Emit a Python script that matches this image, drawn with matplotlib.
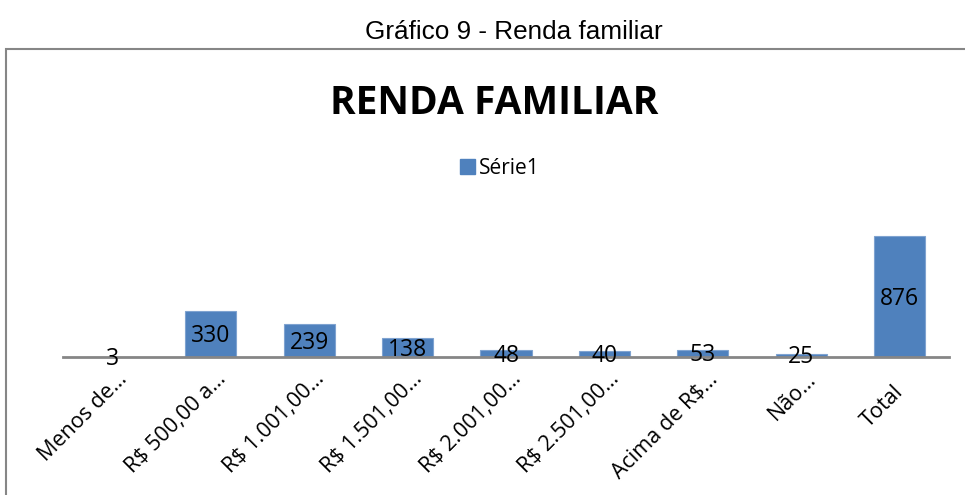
import matplotlib.pyplot as plt
import matplotlib.patches as mpatches
from matplotlib.transforms import ScaledTranslation

categories = ['Menos de…', 'R$ 500,00 a…', 'R$ 1.001,00…', 'R$ 1.501,00…',
              'R$ 2.001,00…', 'R$ 2.501,00…', 'Acima de R$…', 'Não…', 'Total']
values = [3, 330, 239, 138, 48, 40, 53, 25, 876]

bar_color = '#4F81BD'
gray = '#868686'
font = ['Open Sans', 'DejaVu Sans']

W, H = 965, 495
fig = plt.figure(figsize=(W / 100, H / 100), dpi=100)

# outer caption
fig.text(514 / W, 1 - 32 / H, 'Gráfico 9 - Renda familiar', ha='center', va='center',
         fontsize=18.8, family=['Liberation Sans', 'DejaVu Sans'])

# chart border (runs off the right and bottom edges)
border = mpatches.Rectangle((5.5 / W, -0.1), 1.2, 1.1 - 48.5 / H, transform=fig.transFigure,
                            fill=False, edgecolor=gray, linewidth=1.5)
fig.patches.append(border)

fig.text(494 / W, 1 - 104 / H, 'RENDA FAMILIAR', ha='center', va='center',
         fontsize=28, fontweight='bold', family=font)

# plot area
left, right = 63 / W, 949 / W
base, top = 357 / H, 219 / H
ax = fig.add_axes([left, 1 - base, right - left, base - top])
x = range(len(categories))
bars = ax.bar(x, values, width=0.52, color=bar_color, edgecolor='#7FA3D0', linewidth=0.8,
              label='Série1')
anns = ax.bar_label(bars, labels=[str(v) for v in values], label_type='center', fontsize=16.5,
                    family=font)
for a in anns:
    a.xyann = (0, -1.5)
ax.set_xlim(-0.5, len(categories) - 0.5)
ax.set_ylim(0, 1000)

for s in ['top', 'right', 'left']:
    ax.spines[s].set_visible(False)
ax.spines['bottom'].set_color(gray)
ax.spines['bottom'].set_linewidth(2)
ax.set_yticks([])
ax.set_xticks(list(x))
ax.set_xticklabels(categories, rotation=45, ha='right', va='baseline', rotation_mode='anchor',
                   fontsize=15.5, family=font)
ax.tick_params(axis='x', length=0, pad=0)
for i, lbl in enumerate(ax.get_xticklabels()):
    dx, dy = (16, 23) if categories[i].endswith('…') else (4, 36)
    lbl.set_transform(lbl.get_transform() + ScaledTranslation(dx / 100, -dy / 100, fig.dpi_scale_trans))

leg = fig.legend(handles=[mpatches.Patch(color=bar_color, label='Série1')],
                 loc='center', bbox_to_anchor=(500 / W, 1 - 168 / H), frameon=False,
                 prop={'family': font, 'size': 15}, handlelength=0.7, handleheight=0.7,
                 handletextpad=0.2)

fig.savefig('out.png', dpi=100)
